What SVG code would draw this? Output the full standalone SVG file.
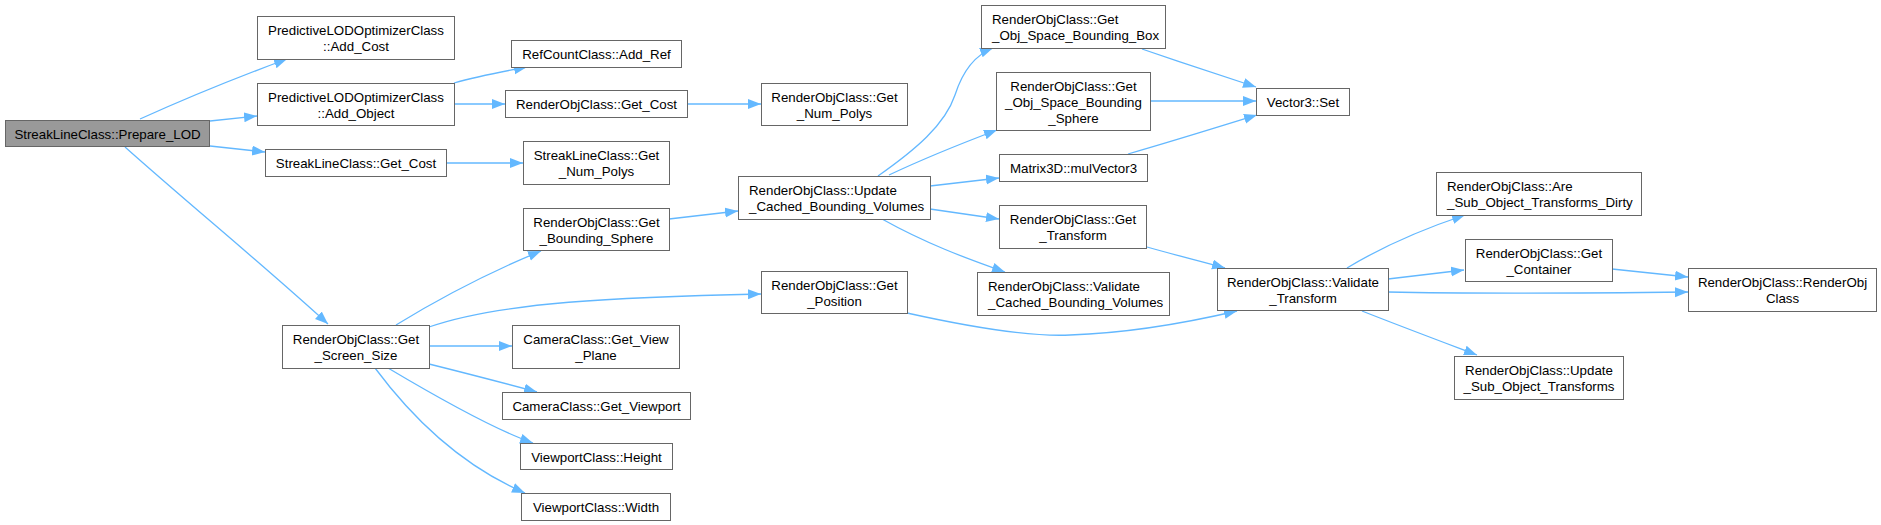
<svg xmlns="http://www.w3.org/2000/svg" width="1881" height="525" viewBox="0 0 1881 525">
<style>
.n rect{fill:#ffffff;stroke:#666666;stroke-width:1}
.n.root rect{fill:#999999}
.n text{font-family:"Liberation Sans",Arial,sans-serif;font-size:13.3px;fill:#000000}
.c{text-anchor:middle}
.e path{fill:none;stroke:#63b8ff;stroke-width:1.3}
</style>
<defs>
<marker id="arr" markerUnits="userSpaceOnUse" markerWidth="15" markerHeight="11" refX="13" refY="5" orient="auto">
<path d="M0,0 L13,5 L0,10 z" fill="#63b8ff" stroke="none"/>
</marker>
</defs>
<rect width="1881" height="525" fill="#ffffff"/>
<g id="edges" class="e" marker-end="url(#arr)">
<path marker-end="url(#arr)" d="M140,119 C180,101 230,80 287,59"/>
<path marker-end="url(#arr)" d="M210,121 L257,116"/>
<path marker-end="url(#arr)" d="M210,146 L265,152"/>
<path marker-end="url(#arr)" d="M125,147 C190,205 260,262 328,324"/>
<path marker-end="url(#arr)" d="M454,83 C475,77 500,72 527,67"/>
<path marker-end="url(#arr)" d="M454,104 L505,104"/>
<path marker-end="url(#arr)" d="M687,104 L761,104"/>
<path marker-end="url(#arr)" d="M446,163 L523,163"/>
<path marker-end="url(#arr)" d="M396,325 C440,298 490,272 541,251"/>
<path marker-end="url(#arr)" d="M669,219 L738,211"/>
<path marker-end="url(#arr)" d="M878,176 C915,150 945,125 955,95 C963,70 975,55 993,48"/>
<path marker-end="url(#arr)" d="M889,175 C925,158 960,144 997,130"/>
<path marker-end="url(#arr)" d="M930,186 L999,178"/>
<path marker-end="url(#arr)" d="M930,209 L999,219"/>
<path marker-end="url(#arr)" d="M882,219 C925,243 965,258 1005,272"/>
<path marker-end="url(#arr)" d="M1142,49 C1180,62 1220,75 1256,87"/>
<path marker-end="url(#arr)" d="M1150,101 L1256,101"/>
<path marker-end="url(#arr)" d="M1128,154 C1170,142 1215,128 1257,115"/>
<path marker-end="url(#arr)" d="M1147,247 C1175,255 1200,261 1225,268"/>
<path marker-end="url(#arr)" d="M907,313 C970,327 1030,337 1070,335 C1130,333 1190,322 1237,311"/>
<path marker-end="url(#arr)" d="M429,327 C500,302 620,297 761,294"/>
<path marker-end="url(#arr)" d="M429,346 L512,346"/>
<path marker-end="url(#arr)" d="M429,364 C465,373 500,382 537,392"/>
<path marker-end="url(#arr)" d="M388,368 C430,393 490,428 533,443"/>
<path marker-end="url(#arr)" d="M375,368 C410,415 460,465 525,493"/>
<path marker-end="url(#arr)" d="M1347,268 C1380,248 1420,230 1465,215"/>
<path marker-end="url(#arr)" d="M1388,279 L1464,270"/>
<path marker-end="url(#arr)" d="M1388,292 C1480,294 1600,293 1688,292"/>
<path marker-end="url(#arr)" d="M1612,269 L1688,277"/>
<path marker-end="url(#arr)" d="M1362,311 C1400,326 1440,341 1477,355"/>
</g>
<g id="n1" class="n root"><rect x="5.5" y="120.5" width="204" height="26"/><text class="c" x="107.5" y="138.5">StreakLineClass::Prepare_LOD</text></g>
<g id="n2" class="n"><rect x="257.5" y="16.5" width="197" height="43"/><text class="c" x="356" y="34.5">PredictiveLODOptimizerClass</text><text class="c" x="356" y="50.5">::Add_Cost</text></g>
<g id="n3" class="n"><rect x="257.5" y="83.5" width="197" height="42"/><text class="c" x="356" y="101.5">PredictiveLODOptimizerClass</text><text class="c" x="356" y="117.5">::Add_Object</text></g>
<g id="n4" class="n"><rect x="265.5" y="149.5" width="181" height="27"/><text class="c" x="356" y="167.5">StreakLineClass::Get_Cost</text></g>
<g id="n5" class="n"><rect x="511.5" y="40.5" width="170" height="27"/><text class="c" x="596.5" y="58.5">RefCountClass::Add_Ref</text></g>
<g id="n6" class="n"><rect x="505.5" y="90.5" width="182" height="27"/><text class="c" x="596.5" y="108.5">RenderObjClass::Get_Cost</text></g>
<g id="n7" class="n"><rect x="761.5" y="83.5" width="146" height="42"/><text class="c" x="834.5" y="101.5">RenderObjClass::Get</text><text class="c" x="834.5" y="117.5">_Num_Polys</text></g>
<g id="n8" class="n"><rect x="523.5" y="141.5" width="146" height="43"/><text class="c" x="596.5" y="159.5">StreakLineClass::Get</text><text class="c" x="596.5" y="175.5">_Num_Polys</text></g>
<g id="n9" class="n"><rect x="523.5" y="208.5" width="146" height="42"/><text class="c" x="596.5" y="226.5">RenderObjClass::Get</text><text class="c" x="596.5" y="242.5">_Bounding_Sphere</text></g>
<g id="n10" class="n"><rect x="738.5" y="176.5" width="192" height="43"/><text x="749" y="194.5">RenderObjClass::Update</text><text x="749" y="210.5">_Cached_Bounding_Volumes</text></g>
<g id="n11" class="n"><rect x="761.5" y="271.5" width="146" height="42"/><text class="c" x="834.5" y="289.5">RenderObjClass::Get</text><text class="c" x="834.5" y="305.5">_Position</text></g>
<g id="n12" class="n"><rect x="282.5" y="325.5" width="147" height="43"/><text class="c" x="356" y="343.5">RenderObjClass::Get</text><text class="c" x="356" y="359.5">_Screen_Size</text></g>
<g id="n13" class="n"><rect x="512.5" y="325.5" width="167" height="43"/><text class="c" x="596" y="343.5">CameraClass::Get_View</text><text class="c" x="596" y="359.5">_Plane</text></g>
<g id="n14" class="n"><rect x="502.5" y="392.5" width="188" height="27"/><text class="c" x="596.5" y="410.5">CameraClass::Get_Viewport</text></g>
<g id="n15" class="n"><rect x="520.5" y="443.5" width="152" height="26"/><text class="c" x="596.5" y="461.5">ViewportClass::Height</text></g>
<g id="n16" class="n"><rect x="521.5" y="493.5" width="149" height="27"/><text class="c" x="596" y="511.5">ViewportClass::Width</text></g>
<g id="n17" class="n"><rect x="981.5" y="5.5" width="184" height="43"/><text x="992" y="23.5">RenderObjClass::Get</text><text x="992" y="39.5">_Obj_Space_Bounding_Box</text></g>
<g id="n18" class="n"><rect x="996.5" y="72.5" width="154" height="58"/><text class="c" x="1073.5" y="90.5">RenderObjClass::Get</text><text class="c" x="1073.5" y="106.5">_Obj_Space_Bounding</text><text class="c" x="1073.5" y="122.5">_Sphere</text></g>
<g id="n19" class="n"><rect x="999.5" y="154.5" width="148" height="27"/><text class="c" x="1073.5" y="172.5">Matrix3D::mulVector3</text></g>
<g id="n20" class="n"><rect x="999.5" y="205.5" width="147" height="43"/><text class="c" x="1073" y="223.5">RenderObjClass::Get</text><text class="c" x="1073" y="239.5">_Transform</text></g>
<g id="n21" class="n"><rect x="977.5" y="272.5" width="192" height="43"/><text x="988" y="290.5">RenderObjClass::Validate</text><text x="988" y="306.5">_Cached_Bounding_Volumes</text></g>
<g id="n22" class="n"><rect x="1256.5" y="88.5" width="93" height="27"/><text class="c" x="1303" y="106.5">Vector3::Set</text></g>
<g id="n23" class="n"><rect x="1217.5" y="268.5" width="171" height="42"/><text class="c" x="1303" y="286.5">RenderObjClass::Validate</text><text class="c" x="1303" y="302.5">_Transform</text></g>
<g id="n24" class="n"><rect x="1436.5" y="172.5" width="205" height="43"/><text x="1447" y="190.5">RenderObjClass::Are</text><text x="1447" y="206.5">_Sub_Object_Transforms_Dirty</text></g>
<g id="n25" class="n"><rect x="1465.5" y="239.5" width="147" height="42"/><text class="c" x="1539" y="257.5">RenderObjClass::Get</text><text class="c" x="1539" y="273.5">_Container</text></g>
<g id="n26" class="n"><rect x="1688.5" y="268.5" width="188" height="43"/><text class="c" x="1782.5" y="286.5">RenderObjClass::RenderObj</text><text class="c" x="1782.5" y="302.5">Class</text></g>
<g id="n27" class="n"><rect x="1454.5" y="356.5" width="169" height="43"/><text class="c" x="1539" y="374.5">RenderObjClass::Update</text><text class="c" x="1539" y="390.5">_Sub_Object_Transforms</text></g>
</svg>
